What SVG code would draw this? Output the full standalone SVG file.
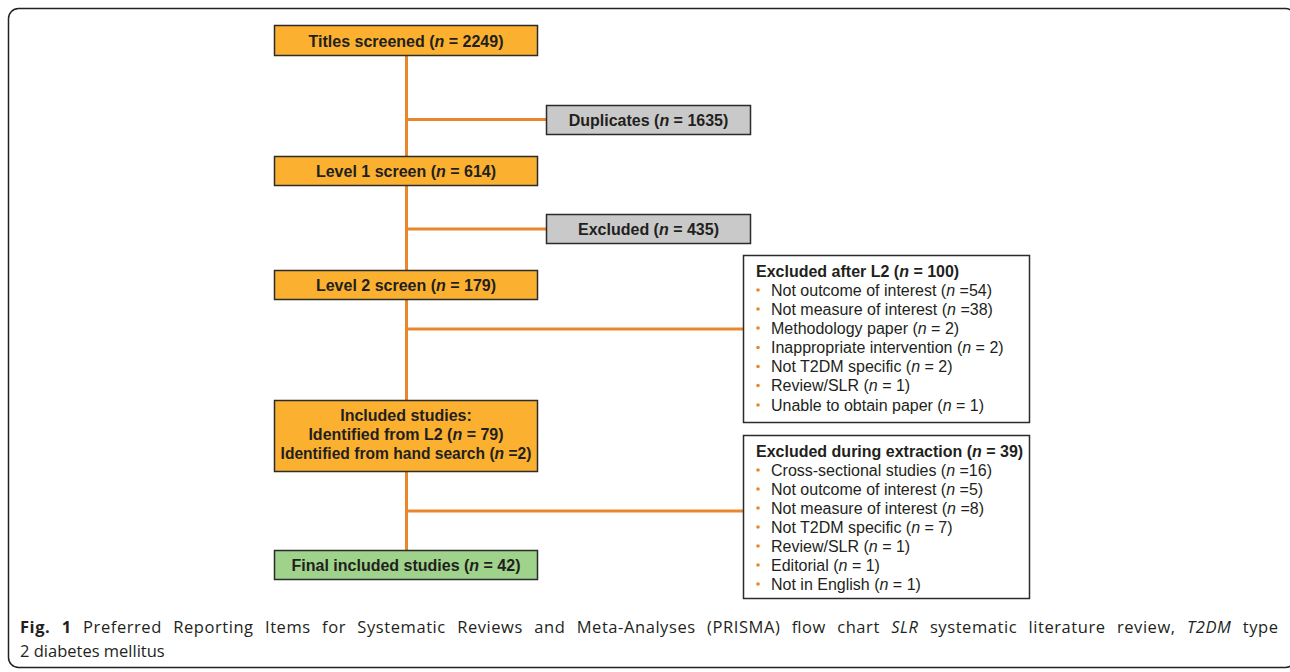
<svg xmlns="http://www.w3.org/2000/svg" width="1290" height="672" viewBox="0 0 1290 672">
<style>
.box{stroke:#2b2b2b;stroke-width:1.5}
.or{fill:#FBB12F}
.gr{fill:#C9C9C9}
.gn{fill:#9FD28A}
.wh{fill:#fff}
.conn{stroke:#E8872E;stroke-width:3;fill:none}
.b{font-family:"Liberation Sans",Arial,sans-serif;font-weight:bold;font-size:16px;fill:#231f20}
.r{font-family:"Liberation Sans",Arial,sans-serif;font-size:16px;fill:#231f20}
.c{text-anchor:middle}
.dot{fill:#E8872E}
.cap{font-family:"Open Sans",sans-serif;font-size:16.5px;fill:#231f20}
</style>
<rect x="8.5" y="8.5" width="1287" height="659" rx="10" fill="none" stroke="#222" stroke-width="1.5"/>
<g id="connectors">
<line class="conn" x1="406.5" y1="55" x2="406.5" y2="550"/>
<line class="conn" x1="406.5" y1="119.5" x2="546" y2="119.5"/>
<line class="conn" x1="406.5" y1="229" x2="546" y2="229"/>
<line class="conn" x1="406.5" y1="329" x2="743" y2="329"/>
<line class="conn" x1="406.5" y1="511" x2="743" y2="511"/>
</g>
<g id="titles">
<rect class="box or" x="274.5" y="25.5" width="263" height="30"/>
<text class="b c" x="406" y="46.5">Titles screened (<tspan font-style="italic">n</tspan> = 2249)</text>
</g>
<g id="duplicates">
<rect class="box gr" x="546.5" y="105.5" width="204" height="29"/>
<text class="b c" x="648.5" y="126">Duplicates (<tspan font-style="italic">n</tspan> = 1635)</text>
</g>
<g id="level1">
<rect class="box or" x="274.5" y="156.5" width="263" height="29"/>
<text class="b c" x="406" y="177">Level 1 screen (<tspan font-style="italic">n</tspan> = 614)</text>
</g>
<g id="excluded1">
<rect class="box gr" x="546.5" y="214.5" width="204" height="29"/>
<text class="b c" x="648.5" y="235">Excluded (<tspan font-style="italic">n</tspan> = 435)</text>
</g>
<g id="level2">
<rect class="box or" x="274.5" y="270.5" width="263" height="29"/>
<text class="b c" x="406" y="291">Level 2 screen (<tspan font-style="italic">n</tspan> = 179)</text>
</g>
<g id="included">
<rect class="box or" x="274.5" y="400.5" width="263" height="71"/>
<text class="b c" x="406" y="420.5">Included studies:</text>
<text class="b c" x="406" y="439.5">Identified from L2 (<tspan font-style="italic">n</tspan> = 79)</text>
<text class="b c" x="406" y="458.5" style="font-size:15.6px">Identified from hand search (<tspan font-style="italic">n</tspan> =2)</text>
</g>
<g id="final">
<rect class="box gn" x="274.5" y="550.5" width="263" height="29"/>
<text class="b c" x="406" y="571">Final included studies (<tspan font-style="italic">n</tspan> = 42)</text>
</g>
<g id="excludedL2">
<rect class="box wh" x="743.5" y="255.5" width="286" height="167"/>
<text class="b" x="756" y="276.5">Excluded after L2 (<tspan font-style="italic">n</tspan> = 100)</text>
<g class="dot"><circle cx="758" cy="290" r="1.8"/><circle cx="758" cy="309" r="1.8"/><circle cx="758" cy="328" r="1.8"/><circle cx="758" cy="347.5" r="1.8"/><circle cx="758" cy="366.5" r="1.8"/><circle cx="758" cy="385.5" r="1.8"/><circle cx="758" cy="405" r="1.8"/></g>
<text class="r" x="771" y="295.5">Not outcome of interest (<tspan font-style="italic">n</tspan> =54)</text>
<text class="r" x="771" y="314.5">Not measure of interest (<tspan font-style="italic">n</tspan> =38)</text>
<text class="r" x="771" y="333.5">Methodology paper (<tspan font-style="italic">n</tspan> = 2)</text>
<text class="r" x="771" y="353">Inappropriate intervention (<tspan font-style="italic">n</tspan> = 2)</text>
<text class="r" x="771" y="372">Not T2DM specific (<tspan font-style="italic">n</tspan> = 2)</text>
<text class="r" x="771" y="391">Review/SLR (<tspan font-style="italic">n</tspan> = 1)</text>
<text class="r" x="771" y="410.5">Unable to obtain paper (<tspan font-style="italic">n</tspan> = 1)</text>
</g>
<g id="excludedExtraction">
<rect class="box wh" x="743.5" y="435.5" width="286" height="163"/>
<text class="b" x="756" y="456.5">Excluded during extraction (<tspan font-style="italic">n</tspan> = 39)</text>
<g class="dot"><circle cx="758" cy="470" r="1.8"/><circle cx="758" cy="489" r="1.8"/><circle cx="758" cy="508" r="1.8"/><circle cx="758" cy="527" r="1.8"/><circle cx="758" cy="546" r="1.8"/><circle cx="758" cy="565" r="1.8"/><circle cx="758" cy="584" r="1.8"/></g>
<text class="r" x="771" y="475.5">Cross-sectional studies (<tspan font-style="italic">n</tspan> =16)</text>
<text class="r" x="771" y="494.5">Not outcome of interest (<tspan font-style="italic">n</tspan> =5)</text>
<text class="r" x="771" y="513.5">Not measure of interest (<tspan font-style="italic">n</tspan> =8)</text>
<text class="r" x="771" y="532.5">Not T2DM specific (<tspan font-style="italic">n</tspan> = 7)</text>
<text class="r" x="771" y="551.5">Review/SLR (<tspan font-style="italic">n</tspan> = 1)</text>
<text class="r" x="771" y="570.5">Editorial (<tspan font-style="italic">n</tspan> = 1)</text>
<text class="r" x="771" y="589.5">Not in English (<tspan font-style="italic">n</tspan> = 1)</text>
</g>
<g id="caption">
<text class="cap" x="20" y="633" word-spacing="6.5" textLength="1258" lengthAdjust="spacing"><tspan font-weight="bold">Fig. 1</tspan> Preferred Reporting Items for Systematic Reviews and Meta-Analyses (PRISMA) flow chart <tspan font-style="italic">SLR</tspan> systematic literature review, <tspan font-style="italic">T2DM</tspan> type</text>
<text class="cap" x="20" y="657">2 diabetes mellitus</text>
</g>
</svg>
